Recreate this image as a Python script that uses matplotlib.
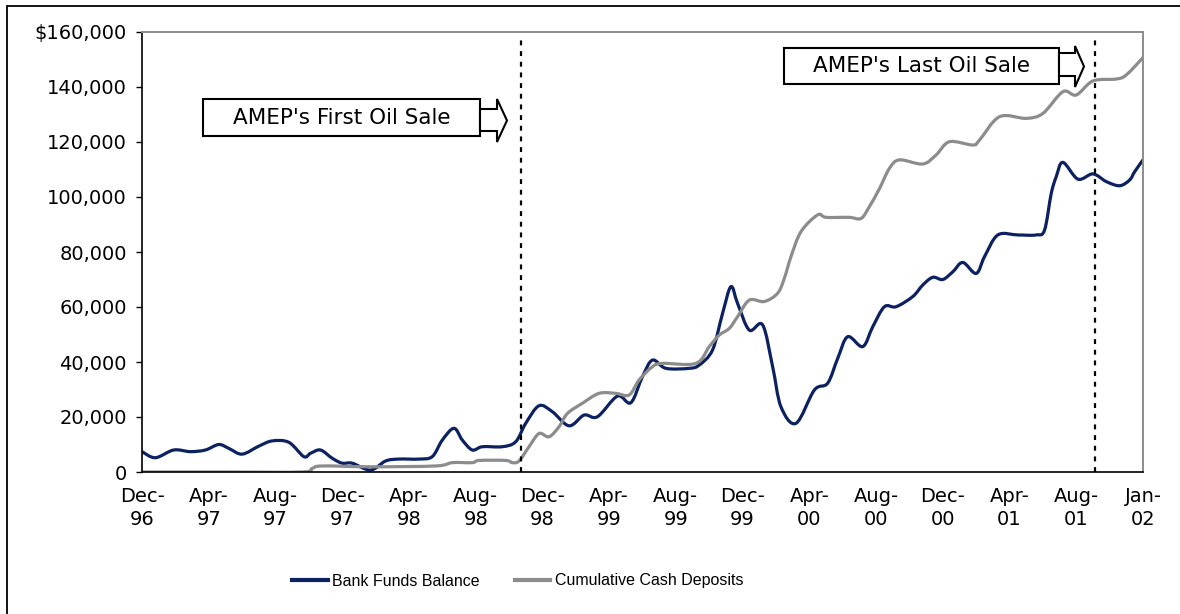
import matplotlib
matplotlib.use("Agg")
from matplotlib import pyplot as plt
from matplotlib.patches import Polygon, Rectangle, PathPatch
from matplotlib.path import Path
from matplotlib.lines import Line2D

# Months counted from Dec-96 (0) to Jan-02 (60); values in $ thousands
bank_months = [0, 0.8, 1.9, 2.9, 3.8, 4.6, 5.2, 6.0, 7.0, 7.8, 8.8, 9.7, 10.1, 10.7,
               11.4, 12.0, 12.6, 13.7, 14.6, 15.4, 16.6, 17.4, 18.0, 18.7, 19.2, 19.8,
               20.4, 21.6, 22.4, 23.0, 23.8, 24.6, 25.6, 26.5, 27.3, 28.5, 29.3, 30.0,
               30.6, 31.4, 32.8, 33.4, 34.2, 34.8, 35.3, 35.7, 36.4, 37.2, 37.8, 38.3,
               39.2, 40.3, 41.1, 41.7, 42.3, 43.2, 43.8, 44.5, 45.2, 46.2, 46.8, 47.4,
               48.0, 48.6, 49.2, 50.0, 50.5, 51.3, 52.5, 53.6, 54.1, 54.5, 54.8, 55.2, 56.1,
               57.0, 57.8, 58.6, 59.2, 59.5, 60.0]
bank_funds = [7.4, 5.2, 8.0, 7.4, 8.0, 10.0, 8.6, 6.5, 9.4, 11.3, 10.8, 5.6, 6.8, 8.0,
              5.0, 3.2, 3.2, 0.7, 4.0, 4.7, 4.7, 5.6, 11.6, 15.9, 11.6, 8.0,
              9.2, 9.2, 11.0, 17.7, 24.1, 21.9, 16.8, 20.7, 20.1, 27.6, 25.2, 34.7,
              40.7, 37.7, 37.7, 38.9, 44.4, 57.7, 67.4, 61.3, 51.6, 53.5, 38.3, 23.7,
              17.7, 29.8, 32.3, 41.3, 49.2, 45.6, 52.8, 60.1, 60.1, 63.8, 68.0, 70.8,
              70.0, 72.8, 76.2, 72.2, 78.3, 86.2, 86.2, 86.2, 88.0, 101.3, 107.4, 112.6, 106.5,
              108.4, 105.6, 104.1, 106.2, 109.2, 113.5]

cash_months = [0, 5.0, 9.6, 10.2, 10.8, 13.7, 17.6, 18.6, 19.8, 20.2, 21.8, 22.2, 22.6,
               23.2, 23.8, 24.4, 25.0, 25.5, 26.4, 27.4, 28.4, 29.2, 29.8, 30.6, 31.2,
               33.2, 34.0, 34.6, 35.2, 35.7, 36.4, 37.3, 38.1, 38.5, 38.9, 39.5, 40.5,
               41.0, 42.4, 43.1, 43.6, 44.2, 44.8, 45.4, 46.8, 47.6, 48.4, 49.8, 50.2,
               51.4, 53.0, 54.0, 55.2, 56.0, 57.0, 58.4, 59.0, 60.0]
cash_deposits = [0, 0, 0, 1.3, 2.2, 1.9, 2.2, 3.4, 3.4, 4.2, 4.2, 3.4, 4.0,
                 9.2, 14.0, 12.8, 16.5, 21.3, 25.0, 28.6, 28.6, 28.0, 33.5, 38.3, 39.5,
                 39.5, 45.6, 49.8, 52.2, 56.5, 62.5, 62.0, 65.0, 70.4, 78.3, 87.4, 93.5,
                 92.6, 92.6, 92.2, 96.5, 103.0, 110.4, 113.5, 112.0, 115.3, 120.1, 118.9, 120.7,
                 129.2, 128.6, 130.4, 138.3, 137.1, 142.2, 142.9, 144.4, 150.7]

tick_months = [0, 4, 8, 12, 16, 20, 24, 28, 32, 36, 40, 44, 48, 52, 56, 60]
tick_labels = ["Dec-\n96", "Apr-\n97", "Aug-\n97", "Dec-\n97", "Apr-\n98", "Aug-\n98",
               "Dec-\n98", "Apr-\n99", "Aug-\n99", "Dec-\n99", "Apr-\n00", "Aug-\n00",
               "Dec-\n00", "Apr-\n01", "Aug-\n01", "Jan-\n02"]
y_ticks = [0, 20000, 40000, 60000, 80000, 100000, 120000, 140000, 160000]

sale_months = [22.7, 57.1]  # first and last oil sale

W, H = 1180, 614
fig = plt.figure(figsize=(W / 100, H / 100), dpi=100)
ax = fig.add_axes([142 / W, 1 - 472 / H, (1143 - 142) / W, (472 - 32) / H])

navy = "#0c2161"
grey = "#8c8c8c"


def smooth_line(xs, ys, color):
    # Excel-style smoothed line: bezier segments through the data points
    pts = list(zip(xs, ys))
    verts = [pts[0]]
    codes = [Path.MOVETO]
    n = len(pts)
    for i in range(n - 1):
        p0 = pts[max(i - 1, 0)]
        p1 = pts[i]
        p2 = pts[i + 1]
        p3 = pts[min(i + 2, n - 1)]
        c1 = (p1[0] + (p2[0] - p0[0]) / 6, p1[1] + (p2[1] - p0[1]) / 6)
        c2 = (p2[0] - (p3[0] - p1[0]) / 6, p2[1] - (p3[1] - p1[1]) / 6)
        verts += [c1, c2, p2]
        codes += [Path.CURVE4] * 3
    ax.add_patch(PathPatch(Path(verts, codes), facecolor="none", edgecolor=color,
                           lw=2.3, joinstyle="round", capstyle="round"))


smooth_line(bank_months, [v * 1000 for v in bank_funds], navy)
smooth_line(cash_months, [v * 1000 for v in cash_deposits], grey)

for m in sale_months:
    ax.vlines(m, 0, 157500, colors="black", linestyles=(0, (2.2, 2.6)), lw=1.6)

ax.set_xlim(0, 60)
ax.set_ylim(0, 160000)
ax.set_xticks(tick_months)
ax.set_xticklabels(tick_labels, fontsize=14, linespacing=1.25)
ax.set_yticks(y_ticks)
ax.set_yticklabels(["$160,000" if v == 160000 else f"{v:,}" for v in y_ticks], fontsize=14)
ax.tick_params(axis="y", length=4, width=1, pad=7)
ax.tick_params(axis="x", length=0, pad=11)

for side in ["left", "bottom"]:
    ax.spines[side].set_color("black")
    ax.spines[side].set_linewidth(1.2)
for side in ["top", "right"]:
    ax.spines[side].set_color("#8c8c8c")
    ax.spines[side].set_linewidth(1.4)


def px(x, y):
    return (x / W, 1 - y / H)


# callout boxes with block arrows, in figure pixels
def callout(text, left, right, top, bottom, shaft_top, shaft_bot, head_x, tip_x, head_top, head_bot):
    fig.patches.append(Rectangle(px(left, bottom), (right - left) / W, (bottom - top) / H,
                                 transform=fig.transFigure, facecolor="white",
                                 edgecolor="black", lw=1.5))
    mid = (top + bottom) / 2
    pts = [px(right, shaft_top), px(head_x, shaft_top), px(head_x, head_top),
           px(tip_x, (head_top + head_bot) / 2), px(head_x, head_bot),
           px(head_x, shaft_bot), px(right, shaft_bot)]
    fig.patches.append(Polygon(pts, closed=True, transform=fig.transFigure,
                               facecolor="white", edgecolor="black", lw=1.5))
    fig.text((left + right) / 2 / W, 1 - mid / H, text, fontsize=15.5,
             ha="center", va="center")


callout("AMEP's First Oil Sale", 203, 480, 99, 136, 109, 131, 497, 507, 99, 142)
callout("AMEP's Last Oil Sale", 784, 1059, 48, 84, 53, 76, 1075, 1084, 46, 87)

handles = [Line2D([], [], color=navy, lw=3),
           Line2D([], [], color=grey, lw=3)]
leg = fig.legend(handles, ["Bank Funds Balance", "Cumulative Cash Deposits"],
                 loc="center", bbox_to_anchor=(518 / W, 1 - 581 / H), ncol=2,
                 frameon=False, handlelength=2.2, handletextpad=0.3, columnspacing=2.2,
                 prop={"family": "Liberation Sans", "size": 11.5})

# outer frame (top and left edges visible)
fig.patches.append(Rectangle(px(7, 640), 1300 / W, (640 - 6) / H, transform=fig.transFigure,
                             facecolor="none", edgecolor="black", lw=1.3))

fig.savefig("out.png", dpi=100)
